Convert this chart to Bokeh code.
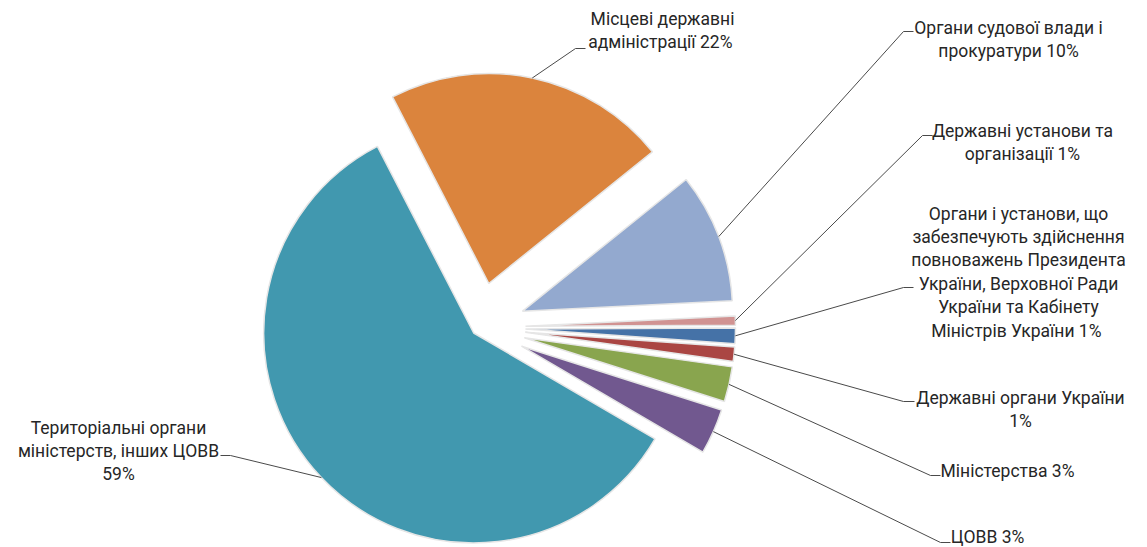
import math
from bokeh.plotting import figure
from bokeh.models import Range1d
from bokeh.embed import file_html
from bokeh.resources import INLINE
from bokeh.core.properties import value

# ---------------- data ----------------
categories = [
    "Місцеві державні адміністрації",
    "Органи судової влади і прокуратури",
    "Державні установи та організації",
    "Органи і установи, що забезпечують здійснення повноважень Президента України, Верховної Ради України та Кабінету Міністрів України",
    "Державні органи України",
    "Міністерства",
    "ЦОВВ",
    "Територіальні органи міністерств, інших ЦОВВ",
]
shares = [21.8, 10.0, 0.7, 1.2, 1.1, 2.7, 3.5, 59.0]
label_texts = [
    "Місцеві державні\nадміністрації  22%",
    "Органи судової влади і\nпрокуратури 10%",
    "Державні установи та\nорганізації 1%",
    "Органи і установи, що\nзабезпечують здійснення\nповноважень Президента\nУкраїни, Верховної Ради\nУкраїни та Кабінету\nМіністрів України  1%",
    "Державні органи України\n1%",
    "Міністерства 3%",
    "ЦОВВ 3%",
    "Територіальні органи\nміністерств, інших ЦОВВ\n59%",
]
colors = ["#DB843D", "#93A9CF", "#D19392", "#4572A7", "#AA4643", "#89A54E", "#71588F", "#4198AF"]

# ---------------- layout (screen pixels) ----------------
W, H = 1147, 547
FONT = "Roboto"
FSIZE = 17.5
LINE_H = 23.4
START_DEG = 117.3            # first slice starts here, slices go clockwise
CX, CY = 479, 327            # pie centre (screen px)
R = 210
explode = [45, 46, 46, 46, 46, 46, 46, 8]
# label block: centre x, first line y
label_pos = [(662, 18), (1008, 27), (1022, 130), (1018, 213), (1020, 397), (1007, 470), (987, 536), (118, 427)]
# leader stub: text-side x, elbow x, y
stubs = [(585, 575, 48), (913, 903, 31), (932, 922, 135), (913, 903, 287),
         (914, 903, 401), (940, 930, 475), (950, 940, 542), (220, 230, 455)]


def Y(py):
    return H - py


p = figure(width=W, height=H, x_range=Range1d(0, W), y_range=Range1d(0, H),
           output_backend="svg", toolbar_location=None, min_border=0,
           outline_line_color=None)
p.axis.visible = False
p.grid.visible = False
p.background_fill_color = "white"
p.border_fill_color = "white"

total = sum(shares)
cum = 0.0
for i, s in enumerate(shares):
    a0 = START_DEG - cum / total * 360.0
    cum += s
    a1 = START_DEG - cum / total * 360.0
    mid = math.radians((a0 + a1) / 2)
    ax = CX + explode[i] * math.cos(mid)
    ay = Y(CY) + explode[i] * math.sin(mid)
    p.wedge(x=[ax], y=[ay], radius=R, start_angle=[math.radians(a1)], end_angle=[math.radians(a0)],
            direction="anticlock", fill_color=colors[i], line_color="#e6e6e6", line_width=1.5)
    # leader line to the arc midpoint
    mx = ax + R * math.cos(mid)
    my = ay + R * math.sin(mid)
    tx, ex, sy = stubs[i]
    p.line(x=[tx, ex, mx], y=[Y(sy), Y(sy), my], line_color="#4a4a4a", line_width=1)
    # label
    lx, ly = label_pos[i]
    for k, ln in enumerate(label_texts[i].split("\n")):
        p.text(x=[lx], y=[Y(ly + k * LINE_H)], text=[ln], text_align="center",
               text_baseline="middle", text_font=value(FONT), text_font_size=f"{FSIZE}px",
               text_color="#262626")

open("out.html", "w").write(file_html(p, INLINE))
